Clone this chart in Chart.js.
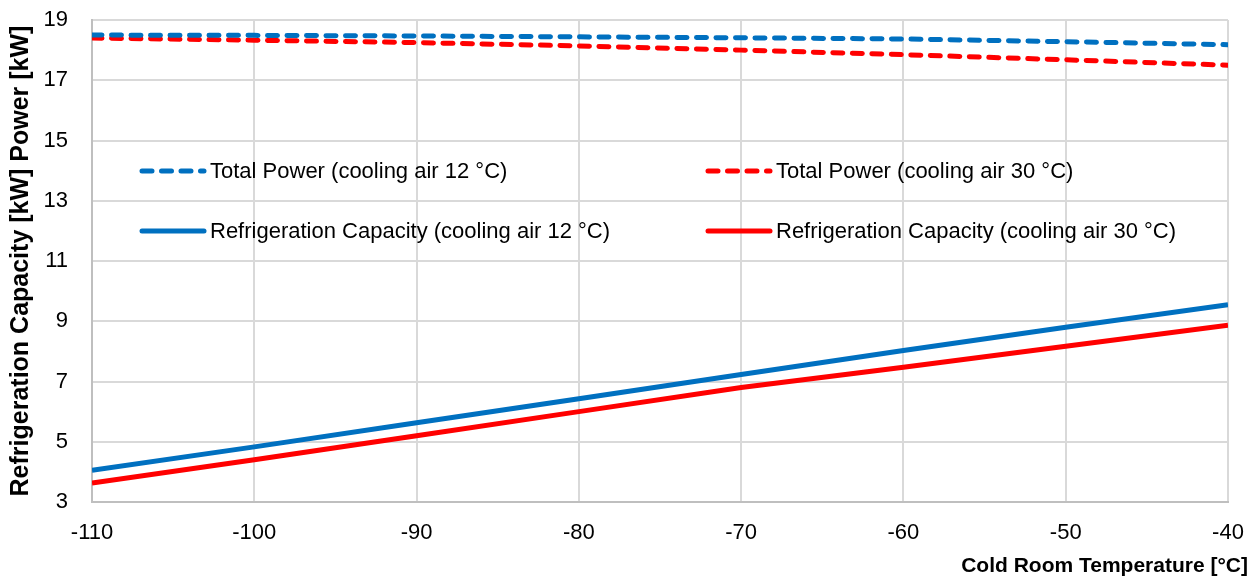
<!DOCTYPE html>
<html>
<head>
<meta charset="utf-8">
<script src="https://cdn.jsdelivr.net/npm/chart.js@4/dist/chart.umd.min.js"></script>
<style>
  html, body { margin: 0; padding: 0; background: #fff; }
  #wrap { width: 1251px; height: 578px; position: relative; }
</style>
</head>
<body>
<div id="wrap"><canvas id="c" width="1251" height="578"></canvas></div>
<script>
const temps = [-110, -100, -90, -80, -70, -60, -50, -40];
const power12 = [18.5, 18.49, 18.47, 18.44, 18.41, 18.37, 18.28, 18.18];
const power30 = [18.4, 18.33, 18.25, 18.14, 18.0, 17.85, 17.68, 17.5];
const cap12 = [4.05, 4.83, 5.63, 6.43, 7.23, 8.03, 8.8, 9.55];
const cap30 = [3.63, 4.4, 5.2, 6.0, 6.8, 7.47, 8.17, 8.87];
const labels = [
  'Total Power (cooling air 12 °C)',
  'Total Power (cooling air 30 °C)',
  'Refrigeration Capacity (cooling air 12 °C)',
  'Refrigeration Capacity (cooling air 30 °C)'
];
const xTitle = 'Cold Room Temperature [°C]';
const yTitle = 'Refrigeration Capacity [kW] Power [kW]';

const BLUE = '#0070C0';
const RED = '#FF0000';
const FONT = "'Liberation Sans', Arial, sans-serif";
const DASH = [10, 9.5];

function pts(ys) {
  return temps.map((t, i) => ({ x: t, y: ys[i] }));
}

// legend drawn inside the plot area, two columns like the original
const insideLegend = {
  id: 'insideLegend',
  afterDatasetsDraw(chart) {
    const ctx = chart.ctx;
    const spots = [
      { x: 140, y: 171 },
      { x: 706, y: 171 },
      { x: 140, y: 231 },
      { x: 706, y: 231 }
    ];
    chart.data.datasets.forEach((ds, i) => {
      const s = spots[i];
      ctx.save();
      ctx.strokeStyle = ds.borderColor;
      ctx.lineWidth = ds.borderWidth;
      ctx.lineCap = 'round';
      ctx.setLineDash(ds.borderDash || []);
      ctx.beginPath();
      ctx.moveTo(s.x + 2, s.y);
      ctx.lineTo(s.x + 64, s.y);
      ctx.stroke();
      ctx.setLineDash([]);
      ctx.fillStyle = '#000';
      ctx.font = '22px ' + FONT;
      ctx.textBaseline = 'middle';
      ctx.fillText(ds.label, s.x + 70, s.y + 1);
      ctx.restore();
    });
  }
};

// x axis title sits right-aligned past the plot edge, so draw it by hand
const xAxisTitle = {
  id: 'xAxisTitle',
  afterDraw(chart) {
    const ctx = chart.ctx;
    ctx.save();
    ctx.fillStyle = '#000';
    ctx.font = 'bold 21px ' + FONT;
    ctx.textAlign = 'right';
    ctx.textBaseline = 'middle';
    ctx.fillText(xTitle, 1248, 566);
    ctx.restore();
  }
};

new Chart(document.getElementById('c'), {
  type: 'line',
  data: {
    datasets: [
      { label: labels[0], data: pts(power12), borderColor: BLUE, borderWidth: 5, borderDash: DASH, borderCapStyle: 'round' },
      { label: labels[1], data: pts(power30), borderColor: RED, borderWidth: 5, borderDash: DASH, borderCapStyle: 'round' },
      { label: labels[2], data: pts(cap12), borderColor: BLUE, borderWidth: 5 },
      { label: labels[3], data: pts(cap30), borderColor: RED, borderWidth: 5 }
    ]
  },
  options: {
    responsive: false,
    animation: false,
    elements: { point: { radius: 0 }, line: { tension: 0 } },
    layout: { padding: { top: 20, right: 23, left: 0, bottom: 0 } },
    plugins: { legend: { display: false }, tooltip: { enabled: false } },
    scales: {
      x: {
        type: 'linear',
        min: -110, max: -40,
        ticks: { stepSize: 10, color: '#000', font: { family: FONT, size: 22 }, padding: 18 },
        grid: { color: '#d9d9d9', lineWidth: 2, drawTicks: false },
        border: { color: '#bfbfbf', width: 2 },
        afterFit(s) { s.height = 76; s.paddingLeft = 0; s.paddingRight = 0; }
      },
      y: {
        min: 3, max: 19,
        ticks: { stepSize: 2, color: '#000', font: { family: FONT, size: 22 }, padding: 24 },
        grid: { color: '#d9d9d9', lineWidth: 2, drawTicks: false },
        border: { color: '#bfbfbf', width: 2 },
        title: { display: true, text: yTitle, color: '#000',
                 font: { family: FONT, size: 25, weight: 'bold' }, padding: { top: 6, bottom: 0 } },
        afterFit(s) { s.width = 92; s.paddingTop = 0; s.paddingBottom = 0; }
      }
    }
  },
  plugins: [insideLegend, xAxisTitle]
});
</script>
</body>
</html>
